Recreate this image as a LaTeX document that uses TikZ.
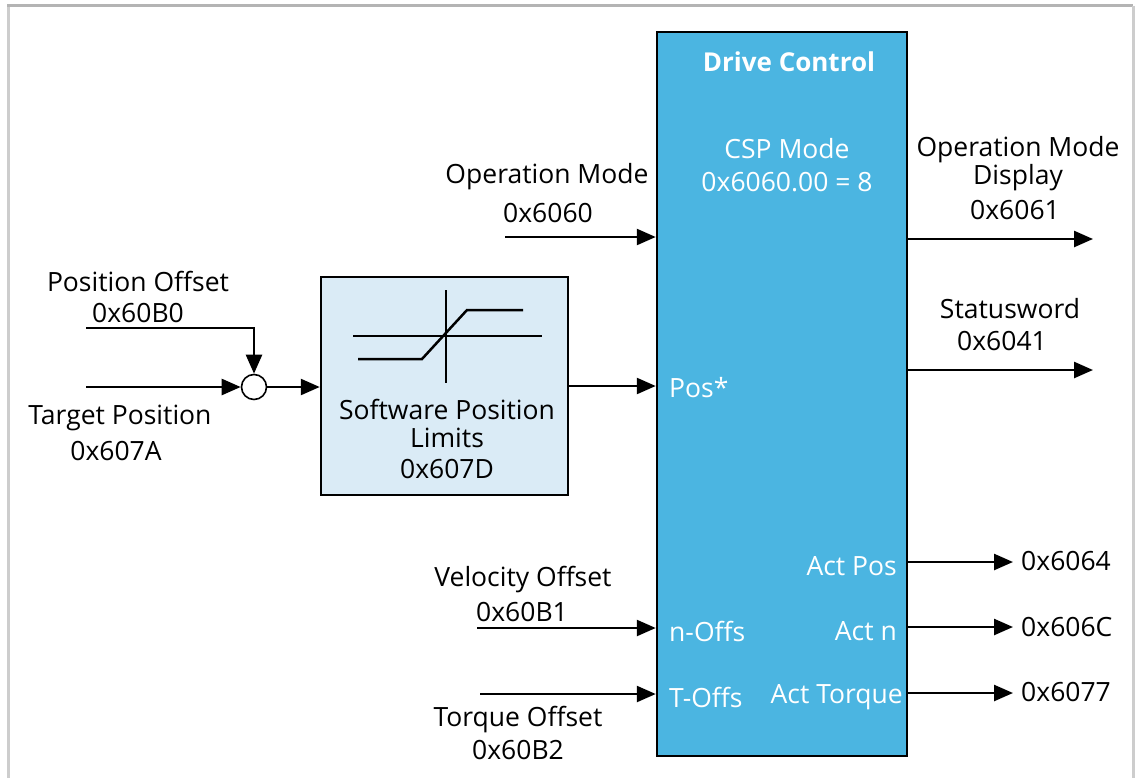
\documentclass[tikz,border=0pt]{standalone}
\usepackage{fontspec}
\setmainfont{Open Sans}
\usetikzlibrary{arrows.meta,positioning}
\definecolor{dcblue}{HTML}{4BB5E1}
\definecolor{spllight}{HTML}{DAEBF6}
\definecolor{framegray}{HTML}{B4B4B4}
\definecolor{framelight}{HTML}{CDCDCD}
\tikzset{
  pfeil/.style={-{Triangle[length=19pt,width=16pt]}, line width=2.5pt},
  txt/.style={font=\fontsize{26.5}{28}\selectfont, inner sep=0pt, align=center},
  wtxt/.style={txt, text=white},
}
\begin{document}
\begin{tikzpicture}[x=1pt,y=-1pt]
    \useasboundingbox (0,0) rectangle (1139,778);
    % Cornice
    \draw [framelight, line width=3pt] (8.5,778) -- (8.5,6);
    \draw [framegray, line width=3pt] (7,6) -- (1133,6);
    \draw [framelight, line width=3pt] (1133,6) -- (1133,778);
    % Blocchi
    \node [draw, line width=2.5pt, fill=dcblue, minimum width=250, minimum height=724, inner sep=0pt] (drive) at (782,394) {};
    \node [draw, line width=2.5pt, fill=spllight, minimum width=247, minimum height=218, inner sep=0pt] (spl) at (444.5,386) {};
    \node [draw, line width=1.6pt, fill=white, circle, minimum size=25, inner sep=0pt] (sum) at (254,387) {};
    % Simbolo limiti
    \draw [line width=2.5pt] (446,290) -- (446,383);
    \draw [line width=2.5pt] (353,336) -- (542,336);
    \draw [line width=2.5pt] (358,359) -- (422,359) -- (467,310) -- (523,310);
    \node [txt] (spltxt) at (447,423) {Software Position\\Limits};
    \node [txt] (splnum) at (447,469) {0x607D};
    % Testi Drive Control
    \node [wtxt, font=\fontsize{26}{27}\selectfont\bfseries] (dctitle) at (789,62) {Drive Control};
    \node [wtxt] (csp) at (787,149) {CSP Mode};
    \node [wtxt] (cspnum) at (787,182) {0x6060.00 = 8};
    \node [wtxt, anchor=west] (posstar) at (669,388) {Pos*};
    \node [wtxt, anchor=west] (noffs) at (669,631) {n-Offs};
    \node [wtxt, anchor=west] (toffs) at (669,697) {T-Offs};
    \node [wtxt, anchor=east] (actpos) at (897,566) {Act Pos};
    \node [wtxt, anchor=east] (actn) at (897,631) {Act n};
    \node [wtxt, anchor=east] (acttq) at (903,697) {Act Torque};
    % Ingressi
    \coordinate (opmodein) at (505,237);
    \coordinate (posoff) at (86,328);
    \coordinate (targpos) at (86,387);
    \coordinate (veloff) at (477,628);
    \coordinate (tqoff) at (480,694);
    \draw [pfeil] (opmodein) -- (opmodein -| drive.west);
    \draw [pfeil] (posoff) -- (posoff -| sum) -- (sum.north);
    \draw [pfeil] (targpos) -- (sum.west);
    \draw [pfeil] (sum.east) -- (sum.east -| spl.west);
    \draw [pfeil] (spl.east) -- (spl.east -| drive.west);
    \draw [pfeil] (veloff) -- (veloff -| drive.west);
    \draw [pfeil] (tqoff) -- (tqoff -| drive.west);
    \node [txt] (opmodelbl) at (547,177) {Operation Mode};
    \node [txt] (opmodenum) at (548,213) {0x6060};
    \node [txt] (posofflbl) at (138,281) {Position Offset};
    \node [txt] (posoffnum) at (138,313) {0x60B0};
    \node [txt] (targlbl) at (120,418) {Target Position};
    \node [txt] (targnum) at (116,451) {0x607A};
    \node [txt] (vellbl) at (523,580) {Velocity Offset};
    \node [txt] (velnum) at (522,612) {0x60B1};
    \node [txt] (tqlbl) at (518,720) {Torque Offset};
    \node [txt] (tqnum) at (518,750) {0x60B2};
    % Uscite
    \coordinate (opdisp) at (1093,239);
    \coordinate (status) at (1093,370);
    \coordinate (posout) at (1013,562);
    \coordinate (nout) at (1013,627);
    \coordinate (tqout) at (1013,693);
    \draw [pfeil] (drive.east |- opdisp) -- (opdisp);
    \draw [pfeil] (drive.east |- status) -- (status);
    \draw [pfeil] (drive.east |- posout) -- (posout);
    \draw [pfeil] (drive.east |- nout) -- (nout);
    \draw [pfeil] (drive.east |- tqout) -- (tqout);
    \node [txt] (opdisplbl) at (1018,164) {Operation Mode\\Display};
    \node [txt] (opdispnum) at (1015,210) {0x6061};
    \node [txt] (statuslbl) at (1010,309) {Statusword};
    \node [txt] (statusnum) at (1002,341) {0x6041};
    \node [txt, anchor=west] (posnum) at (1021,561) {0x6064};
    \node [txt, anchor=west] (nnum) at (1021,627) {0x606C};
    \node [txt, anchor=west] (tqnum2) at (1021,692) {0x6077};
\end{tikzpicture}
\end{document}
